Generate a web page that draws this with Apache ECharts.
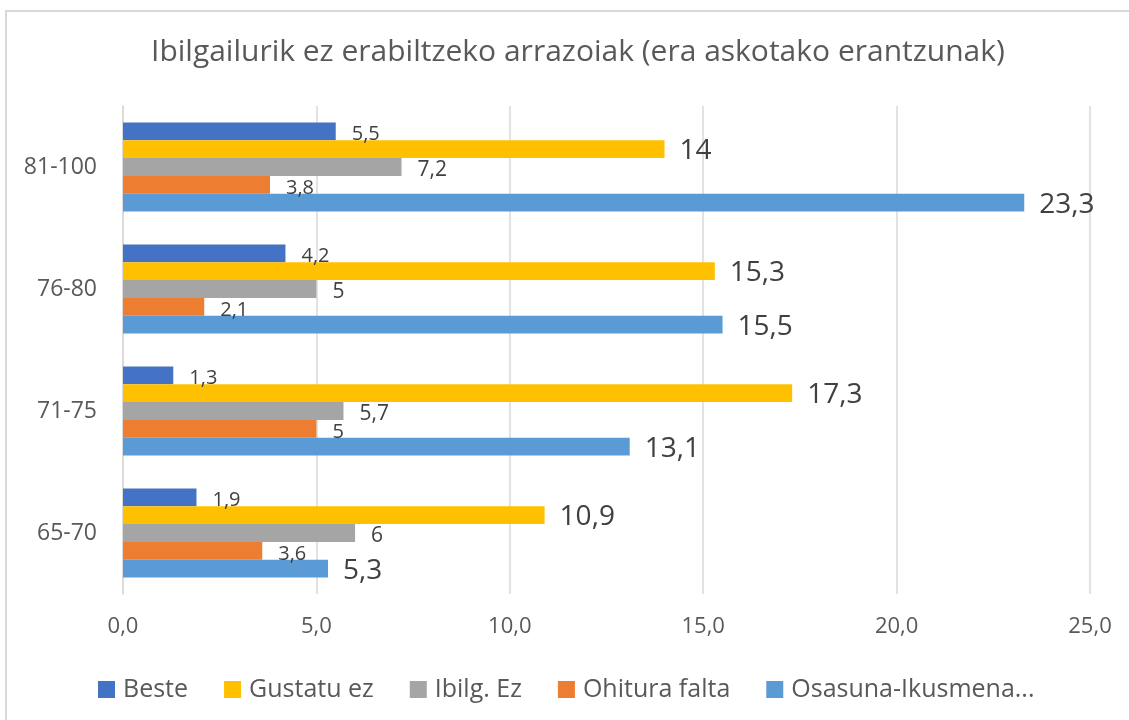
<!DOCTYPE html>
<html lang="eu">
<head>
  <meta charset="UTF-8">
  <title>Ibilgailurik ez erabiltzeko arrazoiak</title>
  <style>
      html, body {
          margin: 0;
          padding: 0;
          background: #fff;
      }
      #chart {
          width: 1129px;
          height: 720px;
      }
  </style>
</head>
<body>
<div id="chart"></div>

<script src="https://cdn.jsdelivr.net/npm/echarts@6/dist/echarts.min.js"></script>
<script>

  // datuak
  const adinak = ['65-70', '71-75', '76-80', '81-100'];
  const beste = [1.9, 1.3, 4.2, 5.5];
  const gustatuEz = [10.9, 17.3, 15.3, 14];
  const ibilgEz = [6, 5.7, 5, 7.2];
  const ohituraFalta = [3.6, 5, 2.1, 3.8];
  const osasuna = [5.3, 13.1, 15.5, 23.3];
  const xTicks = [0, 5, 10, 15, 20, 25];

  const koma = v => String(v).replace('.', ',');
  const font = '"Open Sans", "Noto Sans", sans-serif';

  function serie(name, data, color, size) {
    const big = size > 24;
    return {
      name: name,
      type: 'bar',
      data: data,
      barGap: '0%',
      barCategoryGap: '27%',
      itemStyle: {color: color},
      label: {
        show: true,
        position: 'right',
        distance: big ? 15 : 16,
        offset: [0, big ? 2 : 3],
        color: '#404040',
        fontFamily: font,
        fontSize: size,
        formatter: p => koma(p.value)
      }
    };
  }

  const option = {
    animation: false,
    title: {
      text: 'Ibilgailurik ez erabiltzeko arrazoiak (era askotako erantzunak)',
      left: 146,
      top: 32,
      textStyle: {
        color: '#595959',
        fontFamily: font,
        fontSize: 30,
        fontWeight: 'normal'
      }
    },
    legend: {
      data: ['Beste', 'Gustatu ez', 'Ibilg. Ez', 'Ohitura falta', 'Osasuna-Ikusmena...'],
      bottom: 13,
      left: 93,
      itemWidth: 17,
      itemHeight: 17,
      itemGap: 36,
      icon: 'rect',
      textStyle: {
        color: '#595959',
        fontFamily: font,
        fontSize: 25,
        padding: [0, 0, 0, 3]
      }
    },
    grid: {
      left: 123,
      right: 39,
      top: 106,
      bottom: 126
    },
    xAxis: {
      type: 'value',
      min: xTicks[0],
      max: xTicks[xTicks.length - 1],
      interval: 5,
      axisLine: {show: false},
      axisTick: {show: false},
      splitLine: {lineStyle: {color: '#d9d9d9', width: 1.5}},
      axisLabel: {
        margin: 22,
        color: '#595959',
        fontFamily: font,
        fontSize: 22,
        formatter: v => v.toFixed(1).replace('.', ',')
      }
    },
    yAxis: {
      type: 'category',
      data: adinak,
      axisLine: {lineStyle: {color: '#d9d9d9', width: 1.5}},
      axisTick: {show: false},
      axisLabel: {
        margin: 26,
        color: '#595959',
        fontFamily: font,
        fontSize: 23
      }
    },
    // kategoria bakoitzean lehen seriea goian agertzen da
    series: [
      serie('Beste', beste, '#4472C4', 20),
      serie('Gustatu ez', gustatuEz, '#FFC000', 28),
      serie('Ibilg. Ez', ibilgEz, '#A5A5A5', 21),
      serie('Ohitura falta', ohituraFalta, '#ED7D31', 20),
      serie('Osasuna-Ikusmena...', osasuna, '#5B9BD5', 28)
    ],
    graphic: [{
      type: 'rect',
      shape: {x: 6, y: 11, width: 1140, height: 720},
      style: {fill: 'none', stroke: '#d9d9d9', lineWidth: 2},
      silent: true
    }]
  };

  const myChart = echarts.init(document.getElementById('chart'));
  myChart.setOption(option);

</script>
</body>
</html>
